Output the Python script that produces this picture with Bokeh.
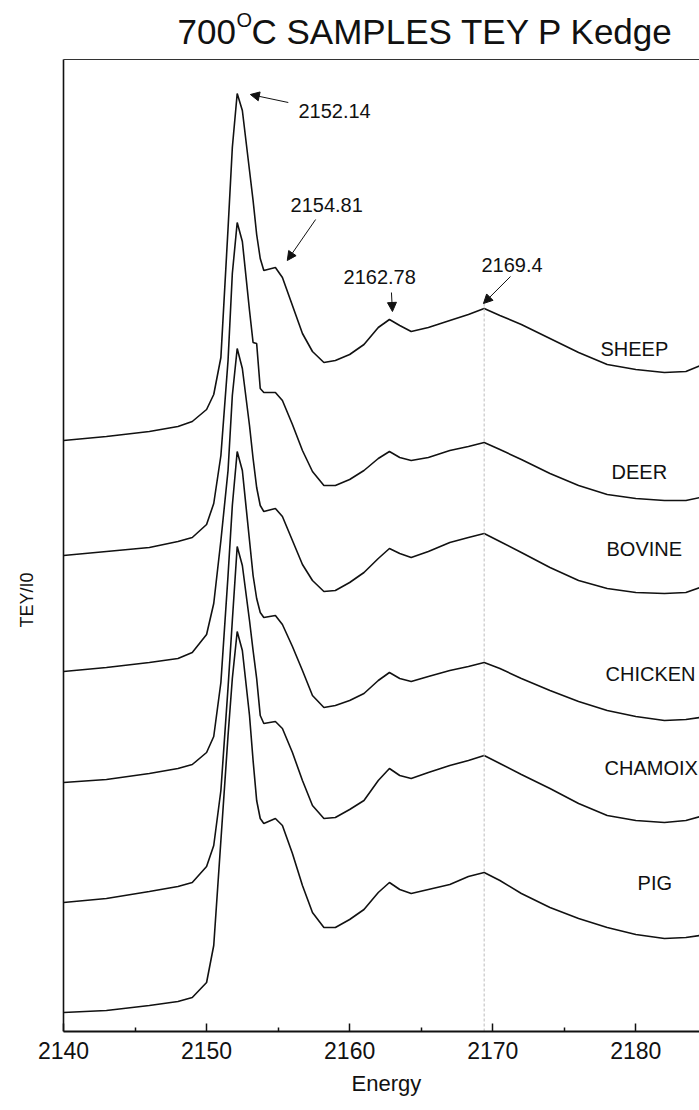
import math
from bokeh.plotting import figure
from bokeh.models import Range1d, Label, Arrow, NormalHead, FixedTicker, Title
from bokeh.embed import file_html
from bokeh.resources import INLINE

# Photon energy grid (eV)
energy = [2140.0, 2143.0, 2146.0, 2148.0, 2149.0, 2150.0, 2150.5, 2151.0, 2151.5, 2151.8,
          2152.14, 2152.5, 2153.0, 2153.25, 2153.5, 2153.75, 2154.0, 2154.81, 2155.3, 2156.0,
          2156.7, 2157.4, 2158.2, 2159.0, 2160.0, 2161.0, 2162.0, 2162.78, 2163.5, 2164.3,
          2165.5, 2167.0, 2168.3, 2169.4, 2170.5, 2172.0, 2174.0, 2176.0, 2178.0, 2180.0,
          2182.0, 2183.5, 2184.5]

# TEY/I0 spectra (baseline subtracted)
sheep = [0.00, 0.04, 0.09, 0.14, 0.19, 0.31, 0.46, 0.83, 2.12, 2.93,
         3.47, 3.30, 2.70, 2.40, 2.06, 1.82, 1.70, 1.73, 1.63, 1.35,
         1.07, 0.89, 0.78, 0.80, 0.86, 0.96, 1.13, 1.21, 1.15, 1.09,
         1.13, 1.20, 1.26, 1.32, 1.25, 1.16, 1.02, 0.88, 0.76, 0.71,
         0.68, 0.69, 0.75]
deer = [0.00, 0.04, 0.08, 0.14, 0.18, 0.31, 0.52, 1.00, 1.95, 2.82,
        3.33, 3.14, 2.45, 2.13, 2.12, 1.67, 1.63, 1.63, 1.55, 1.31,
        1.05, 0.84, 0.70, 0.70, 0.76, 0.85, 0.97, 1.04, 0.98, 0.95,
        0.98, 1.05, 1.09, 1.13, 1.06, 0.96, 0.82, 0.70, 0.61, 0.57,
        0.55, 0.55, 0.58]
bovine = [0.00, 0.04, 0.09, 0.13, 0.19, 0.37, 0.68, 1.31, 2.01, 2.76,
          3.23, 3.03, 2.46, 2.13, 1.84, 1.66, 1.60, 1.63, 1.55, 1.31,
          1.07, 0.91, 0.80, 0.81, 0.89, 0.99, 1.13, 1.23, 1.18, 1.14,
          1.20, 1.29, 1.34, 1.38, 1.30, 1.19, 1.04, 0.91, 0.83, 0.79,
          0.78, 0.79, 0.84]
chicken = [0.00, 0.03, 0.09, 0.14, 0.18, 0.30, 0.46, 1.00, 2.07, 2.77,
           3.31, 3.12, 2.42, 2.07, 1.84, 1.70, 1.65, 1.67, 1.58, 1.36,
           1.12, 0.87, 0.75, 0.77, 0.82, 0.89, 1.02, 1.10, 1.04, 1.01,
           1.06, 1.12, 1.16, 1.20, 1.14, 1.04, 0.92, 0.81, 0.72, 0.66,
           0.62, 0.63, 0.65]
chamoix = [0.00, 0.04, 0.11, 0.16, 0.20, 0.36, 0.57, 1.12, 2.15, 2.82,
           3.56, 3.37, 2.82, 2.52, 2.24, 1.87, 1.79, 1.81, 1.74, 1.50,
           1.22, 0.97, 0.84, 0.85, 0.93, 1.02, 1.22, 1.34, 1.27, 1.24,
           1.30, 1.37, 1.42, 1.47, 1.39, 1.28, 1.14, 0.99, 0.87, 0.82,
           0.80, 0.82, 0.86]
pig = [0.00, 0.02, 0.07, 0.11, 0.15, 0.30, 0.67, 1.72, 2.77, 3.34,
       3.81, 3.62, 2.97, 2.52, 2.12, 1.94, 1.89, 1.94, 1.87, 1.59,
       1.27, 1.00, 0.85, 0.85, 0.93, 1.03, 1.20, 1.30, 1.23, 1.19,
       1.23, 1.28, 1.36, 1.40, 1.32, 1.19, 1.05, 0.94, 0.85, 0.78,
       0.74, 0.75, 0.77]

samples = ["SHEEP", "DEER", "BOVINE", "CHICKEN", "CHAMOIX", "PIG"]
spectra = [sheep, deer, bovine, chicken, chamoix, pig]
offsets = [5.91, 4.76, 3.60, 2.49, 1.29, 0.19]   # vertical stacking offsets

# Marked features (eV)
features = [2152.14, 2154.81, 2162.78, 2169.4]
feature_labels = ["2152.14", "2154.81", "2162.78", "2169.4"]

x_ticks = [2140, 2150, 2160, 2170, 2180]

FONT = "Liberation Sans"
INK = "#111111"
Y_TOP = 9.72                  # top edge of the data box; space above holds the title
E_MIN, E_MAX = 2140, 2184.45  # energy span of the data box
E_LEFT = 2135.597             # canvas left edge, leaves room for the y label

p = figure(width=699, height=1110, output_backend="svg", toolbar_location=None, title=None,
           x_range=Range1d(E_LEFT, E_MAX), y_range=Range1d(0, 10.31),
           min_border_left=0, min_border_right=0, min_border_top=0, min_border_bottom=79,
           background_fill_color="white", border_fill_color="white")
p.outline_line_color = None
p.xgrid.visible = False
p.ygrid.visible = False
p.yaxis.visible = False

# bottom axis
xa = p.xaxis[0]
xa.bounds = (E_MIN, E_MAX)
xa.ticker = FixedTicker(ticks=x_ticks, minor_ticks=[2145, 2155, 2165, 2175])
xa.axis_line_color = INK
xa.axis_line_width = 2
xa.major_tick_in = 8
xa.major_tick_out = 0
xa.minor_tick_in = 4
xa.minor_tick_out = 0
xa.major_tick_line_color = INK
xa.major_tick_line_width = 1.5
xa.minor_tick_line_color = INK
xa.minor_tick_line_width = 1.5
xa.major_label_text_font = FONT
xa.major_label_text_font_size = "23px"
xa.major_label_text_color = INK
xa.major_label_standoff = 10

# x axis title, set under the tick labels and centred on the data box
p.add_layout(Title(text="Energy", align="left", offset=351, text_font=FONT,
                   text_font_size="22px", text_font_style="normal", text_color=INK,
                   standoff=15), "below")

# box edges: left side and top
p.segment(x0=[E_MIN], y0=[0], x1=[E_MIN], y1=[Y_TOP], line_color=INK, line_width=1.6)
p.segment(x0=[E_MIN], y0=[Y_TOP], x1=[E_MAX], y1=[Y_TOP], line_color="#333333", line_width=1.2)

# stacked spectra
for vals, off in zip(spectra, offsets):
    p.line(energy, [v + off for v in vals], line_color=INK, line_width=1.6)

# reference line at the broad resonance
top_y = sheep[energy.index(features[3])] + offsets[0] + 0.05
p.line([features[3], features[3]], [0, top_y], line_color="#bdbdbd", line_width=1,
       line_dash="3 2")

# feature annotations: (text dx, text y, arrow start, arrow end)
annots = [
    (4.28, 9.21, (features[0] + 3.57, 9.29), (features[0] + 0.92, 9.37)),
    (1.06, 8.27, (features[1] + 2.81, 8.12), (features[1] + 0.83, 7.71)),
    (-3.21, 7.55, (features[2] + 0.14, 7.39), (features[2] + 0.21, 7.20)),
    (-0.19, 7.67, (features[3] + 1.84, 7.55), (features[3] - 0.05, 7.28)),
]
for f, lab, (dx, ty, a0, a1) in zip(features, feature_labels, annots):
    p.add_layout(Label(x=f + dx, y=ty, text=lab, text_font=FONT, text_font_size="20px",
                       text_color=INK, text_baseline="alphabetic"))
    p.add_layout(Arrow(x_start=a0[0], y_start=a0[1], x_end=a1[0], y_end=a1[1],
                       line_color=INK, line_width=1,
                       end=NormalHead(size=9, fill_color=INK, line_color=INK)))

# sample names
name_pos = [(2177.53, 6.83), (2178.30, 5.60), (2177.95, 4.83),
            (2177.88, 3.58), (2177.81, 2.64), (2180.12, 1.49)]
for name, (nx, ny) in zip(samples, name_pos):
    p.add_layout(Label(x=nx, y=ny, text=name, text_font=FONT, text_font_size="20px",
                       text_color=INK, text_baseline="alphabetic"))

# vertical axis title
p.add_layout(Label(x=26, y=404, x_units="screen", y_units="screen", text="TEY/I0",
                   angle=math.pi / 2, text_font=FONT, text_font_size="18px",
                   text_color=INK, text_baseline="alphabetic"))

# title: 700 (superscript O) C SAMPLES TEY P Kedge
p.add_layout(Label(x=177, y=1000, x_units="screen", y_units="screen", text="700",
                   text_font=FONT, text_font_size="35px", text_color=INK,
                   text_baseline="alphabetic"))
p.add_layout(Label(x=236, y=1012, x_units="screen", y_units="screen", text="O",
                   text_font=FONT, text_font_size="20px", text_color=INK,
                   text_baseline="alphabetic"))
p.add_layout(Label(x=251, y=1000, x_units="screen", y_units="screen",
                   text="C SAMPLES TEY P Kedge",
                   text_font=FONT, text_font_size="35px", text_color=INK,
                   text_baseline="alphabetic"))

open("out.html", "w").write(file_html(p, INLINE))
